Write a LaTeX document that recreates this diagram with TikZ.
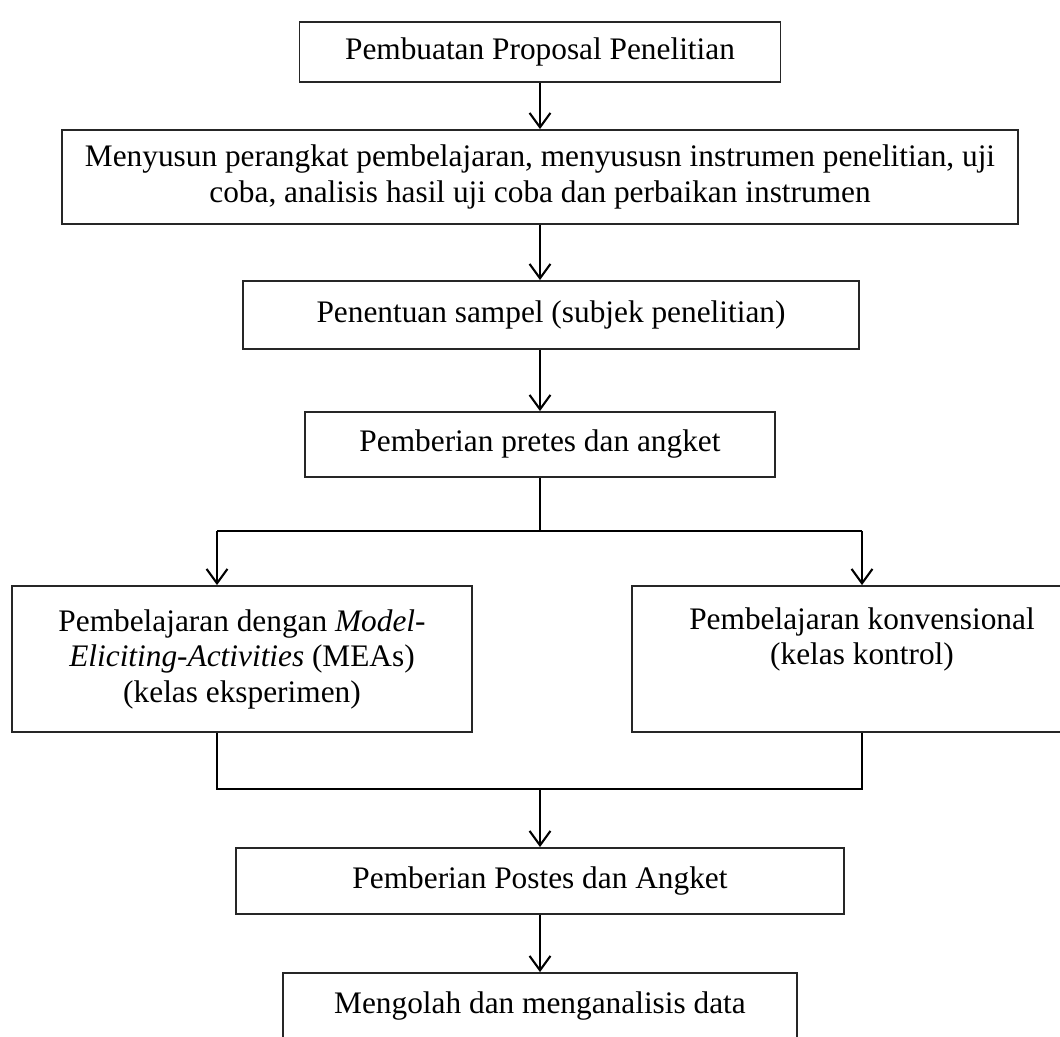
\documentclass[tikz,border=0pt]{standalone}
\usepackage{fontspec}
\setmainfont{Liberation Serif}
\usetikzlibrary{arrows.meta}
\newcommand{\pxu}{0.383pt}
\begin{document}
\begin{tikzpicture}[x=0.383pt,y=-0.383pt,
  box/.style={draw=black!85,line width=0.7pt,inner sep=0pt,align=center,
    font=\fontsize{12}{13.6}\selectfont},
  arr/.style={line width=0.8pt,-{Straight Barb[length=5.5pt,width=8pt]}},
  ln/.style={line width=0.8pt}]
\clip (0,0) rectangle (1060,1037);
\fill[white] (0,0) rectangle (1060,1037);
% kotak-kotak tahapan
\node[box,minimum width=481*\pxu,minimum height=60*\pxu] (proposal) at (540,52) {Pembuatan Proposal Penelitian};
\node[box,minimum width=956*\pxu,minimum height=94*\pxu] (perangkat) at (540,177) {Menyusun perangkat pembelajaran, menyususn instrumen penelitian, uji\\coba, analisis hasil uji coba dan perbaikan instrumen};
\node[box,minimum width=616*\pxu,minimum height=68*\pxu] (sampel) at (551,315) {Penentuan sampel (subjek penelitian)};
\node[box,minimum width=470*\pxu,minimum height=65*\pxu] (pretes) at (540,444.5) {Pemberian pretes dan angket};
\node[box,minimum width=460*\pxu,minimum height=146*\pxu] (mea) at (242,659) {Pembelajaran dengan \textit{Model-}\\\textit{Eliciting-Activities} (MEAs)\\(kelas eksperimen)};
\node[box,minimum width=460*\pxu,minimum height=146*\pxu] (konv) at (862,659) {Pembelajaran konvensional\\(kelas kontrol)\\\strut};
\node[box,minimum width=608*\pxu,minimum height=66*\pxu] (postes) at (540,881) {Pemberian Postes dan Angket};
\node[box,minimum width=514*\pxu,minimum height=67*\pxu] (olah) at (540,1006.5) {Mengolah dan menganalisis data};
% titik cabang
\coordinate (split) at (540,531);
\coordinate (splitL) at (217,531);
\coordinate (splitR) at (862,531);
\coordinate (mergeL) at (217,789);
\coordinate (mergeR) at (862,789);
\coordinate (merge) at (540,789);
% panah
\draw[arr] (proposal.south -| split) -- (perangkat.north -| split);
\draw[arr] (perangkat.south -| split) -- (sampel.north -| split);
\draw[arr] (sampel.south -| split) -- (pretes.north -| split);
\draw[ln] (pretes) -- (split);
\draw[ln] (splitL) -- (splitR);
\draw[arr] (splitL) -- (splitL |- mea.north);
\draw[arr] (splitR) -- (splitR |- konv.north);
\draw[ln] (mea.south -| mergeL) -- (mergeL) -- (mergeR) -- (konv.south -| mergeR);
\draw[arr] (merge) -- (postes);
\draw[arr] (postes) -- (olah);
\end{tikzpicture}
\end{document}
